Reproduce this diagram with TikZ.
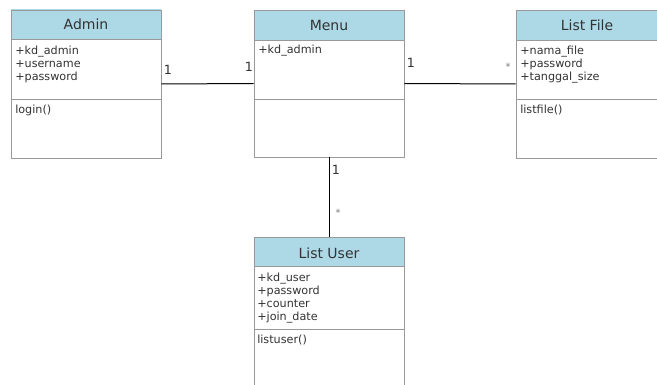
\documentclass[tikz,border=0pt]{standalone}
\usepackage{fontspec}
\setmainfont{DejaVu Sans}
\definecolor{hdr}{HTML}{ADD8E6}
\definecolor{bord}{HTML}{999999}
\definecolor{txt}{HTML}{333333}
\tikzset{
  classbox/.style={draw=bord, line width=0.7pt, minimum width=112.5pt, minimum height=112.5pt, inner sep=0pt},
  divider/.style={draw=bord, line width=0.7pt},
  title/.style={text=txt, font=\fontsize{10.5}{12}\selectfont, inner sep=0pt},
  attrs/.style={text=txt, font=\fontsize{8.4}{9.75}\selectfont, align=left, anchor=north west, inner sep=0pt},
  mult/.style={text=txt, font=\fontsize{9.5}{11}\selectfont, inner sep=0pt},
  star/.style={text=gray, font=\fontsize{7.5}{8}\selectfont, inner sep=0pt},
  assoc/.style={draw=black, line width=0.75pt}
}
\begin{document}
\begin{tikzpicture}[x=0.75pt,y=-0.75pt]
\useasboundingbox[fill=white] (0,0) rectangle (657,385);
\clip (0,0) rectangle (657,385);
% headers
\fill[hdr] (11,9) rectangle (161,39);
\fill[hdr] (254,10) rectangle (404,40);
\fill[hdr] (516,10) rectangle (666,40);
\fill[hdr] (254,237) rectangle (404,266);
% class boxes
\node[classbox, minimum height=111pt] (admin) at (86,84) {};
\node[classbox, minimum height=110.25pt] (menu) at (329,83.5) {};
\node[classbox, minimum height=111pt] (listfile) at (591,84) {};
\node[classbox] (listuser) at (329,312) {};
% dividers
\draw[divider] (11,39) -- (161,39) (11,99) -- (161,99);
\draw[divider] (254,40) -- (404,40) (254,99) -- (404,99);
\draw[divider] (516,40) -- (666,40) (516,99) -- (666,99);
\draw[divider] (254,266) -- (404,266) (254,329) -- (404,329);
% titles
\node[title] (adminT) at (86,24) {Admin};
\node[title] (menuT) at (329,25) {Menu};
\node[title] (listfileT) at (587,25) {List File};
\node[title] (listuserT) at (329,253) {List User};
% attributes
\node[attrs] (adminA) at (15,45.5) {+kd\_admin\\+username\\+password};
\node[attrs] (adminM) at (15,104.5) {login()};
\node[attrs] (menuA) at (258,45) {+kd\_admin};
\node[attrs] (listfileA) at (520,45.5) {+nama\_file\\+password\\+tanggal\_size};
\node[attrs] (listfileM) at (520,104.5) {listfile()};
\node[attrs] (listuserA) at (257,272.5) {+kd\_user\\+password\\+counter\\+join\_date};
\node[attrs] (listuserM) at (257,334.5) {listuser()};
% associations
\draw[assoc] (admin.east) -- (menu.west);
\draw[assoc] (menu.east) -- (listfile.west);
\draw[assoc] (menu.south) -- (listuser.north);
% multiplicities
\node[mult] (m1) at (168,70) {1};
\node[mult] (m2) at (249,67) {1};
\node[mult] (m3) at (411,63) {1};
\node[star] (m4) at (508,67) {*};
\node[mult] (m5) at (336,170) {1};
\node[star] (m6) at (338,213) {*};
\end{tikzpicture}
\end{document}
